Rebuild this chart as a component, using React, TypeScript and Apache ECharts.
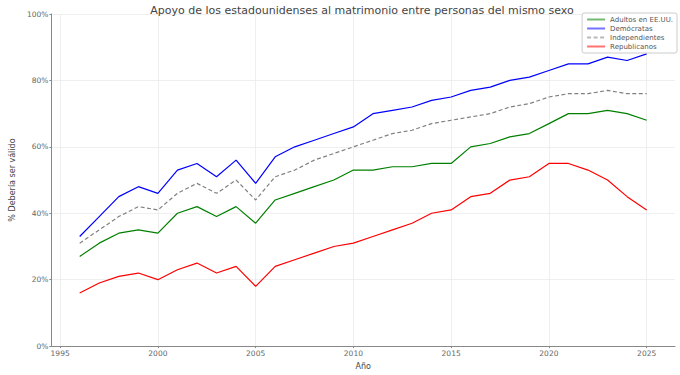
import React, { useEffect, useRef } from "react";
import * as echarts from "echarts";

const years = [1996,1997,1998,1999,2000,2001,2002,2003,2004,2005,2006,2007,2008,2009,2010,2011,2012,2013,2014,2015,2016,2017,2018,2019,2020,2021,2022,2023,2024,2025];
const adultos = [27,31,34,35,34,40,42,39,42,37,44,46,48,50,53,53,54,54,55,55,60,61,63,64,67,70,70,71,70,68];
const democratas = [33,39,45,48,46,53,55,51,56,49,57,60,62,64,66,70,71,72,74,75,77,78,80,81,83,85,85,87,86,88];
const independientes = [31,35,39,42,41,46,49,46,50,44,51,53,56,58,60,62,64,65,67,68,69,70,72,73,75,76,76,77,76,76];
const republicanos = [16,19,21,22,20,23,25,22,24,18,24,26,28,30,31,33,35,37,40,41,45,46,50,51,55,55,53,50,45,41];
const xTicks = [1995,2000,2005,2010,2015,2020,2025];

const FONT = "DejaVu Sans";

export default function App() {
  const ref = useRef<HTMLDivElement>(null);
  useEffect(() => {
    const chart = echarts.init(ref.current!, null, { renderer: "svg" });
    const mk = (name: string, vals: number[], color: string, dashed = false) => ({
      name,
      type: "line",
      data: years.map((y, i) => [y, vals[i]]),
      symbol: "none",
      lineStyle: { color, width: 1.2, type: dashed ? [4, 2.5] : "solid" },
      itemStyle: { color },
    });
    chart.setOption({
      animation: false,
      backgroundColor: "#ffffff",
      textStyle: { fontFamily: FONT },
      title: {
        text: "Apoyo de los estadounidenses al matrimonio entre personas del mismo sexo",
        left: 357,
        textAlign: "center",
        top: 0,
        textStyle: { fontFamily: FONT, fontSize: 11, fontWeight: "normal", color: "#444" },
      },
      legend: {
        orient: "vertical",
        right: 3,
        top: 13,
        itemWidth: 18,
        itemHeight: 6,
        itemGap: 2,
        padding: [3, 4, 3, 4],
        borderColor: "#cccccc",
        borderWidth: 1,
        borderRadius: 2,
        backgroundColor: "rgba(255,255,255,0.9)",
        itemStyle: { opacity: 0 },
        lineStyle: { opacity: 0.55 },
        textStyle: { fontFamily: FONT, fontSize: 7, color: "#555" },
        data: ["Adultos en EE.UU.", "Demócratas", "Independientes", "Republicanos"],
      },
      grid: { left: 38, right: 5, top: 14, bottom: 21 },
      xAxis: {
        type: "value",
        min: 1994.55,
        max: 2026.45,
        name: "Año",
        nameLocation: "middle",
        nameGap: 9,
        nameTextStyle: { fontFamily: FONT, fontSize: 8, color: "#444" },
        axisLine: { show: true, lineStyle: { color: "#888", width: 1 } },
        axisTick: { show: true, length: 2, customValues: xTicks, lineStyle: { color: "#888" } },
        axisLabel: { customValues: xTicks, formatter: (v: number) => String(v), fontSize: 7.5, color: "#666", margin: 3, fontFamily: FONT },
        splitLine: { show: true, lineStyle: { color: "#ebebeb", width: 0.8 } },
      },
      yAxis: {
        type: "value",
        min: 0,
        max: 100,
        interval: 20,
        name: "% Debería ser válido",
        nameLocation: "middle",
        nameGap: 29,
        nameTextStyle: { fontFamily: FONT, fontSize: 8, color: "#444" },
        axisLine: { show: true, lineStyle: { color: "#888", width: 1 } },
        axisTick: { show: true, length: 2, lineStyle: { color: "#888" } },
        axisLabel: { formatter: "{value}%", fontSize: 7.5, color: "#666", margin: 3, fontFamily: FONT },
        splitLine: { show: true, lineStyle: { color: "#ebebeb", width: 0.8 } },
      },
      series: [
        mk("Adultos en EE.UU.", adultos, "#008000"),
        mk("Demócratas", democratas, "#0000ff"),
        mk("Independientes", independientes, "#808080", true),
        mk("Republicanos", republicanos, "#ff0000"),
      ],
    });
    return () => chart.dispose();
  }, []);
  return <div ref={ref} style={{ width: 680, height: 375, position: "absolute", left: 0, top: 0 }} />;
}
